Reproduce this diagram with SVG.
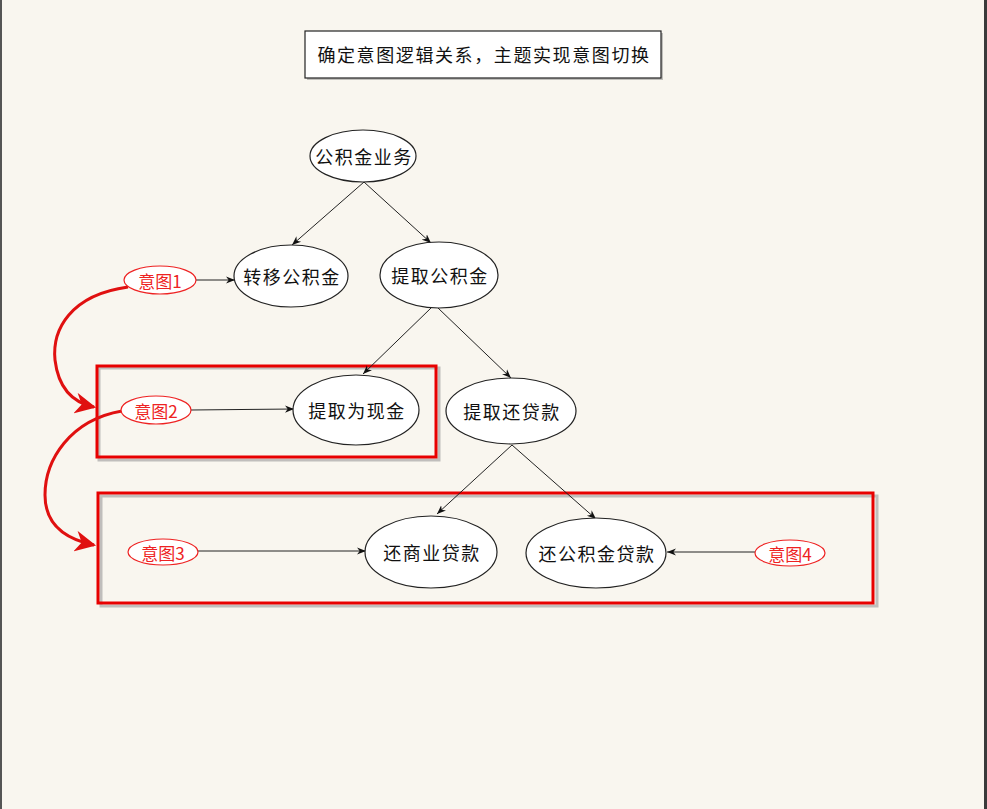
<svg xmlns="http://www.w3.org/2000/svg" width="987" height="809" viewBox="0 0 987 809">
<defs>
<style>
.bg{fill:#f9f6ef}
.node ellipse{fill:#ffffff;stroke:#222;stroke-width:1.2}
.intent ellipse{fill:#ffffff;stroke:#ee2222;stroke-width:1.2}
text{font-family:"Noto Sans CJK SC","Noto Sans",sans-serif;text-anchor:middle;dominant-baseline:central}
.node text{font-size:18px;fill:#111;letter-spacing:1.5px}
.intent text{font-size:17px;fill:#ee2222}
.edge{stroke:#222;stroke-width:1;fill:none;marker-end:url(#ah)}
.redarc{stroke:#e01010;stroke-width:3;fill:none;marker-end:url(#rah)}
.frame{fill:none;stroke:#e80000;stroke-width:3}
.shadow{fill:none;stroke:#999;stroke-width:3;opacity:0.6}
</style>
<marker id="ah" viewBox="0 0 10 10" refX="10" refY="5" markerWidth="9" markerHeight="9" markerUnits="userSpaceOnUse" orient="auto">
<path d="M0,1 L10,5 L0,9 L3,5 Z" fill="#111"/>
</marker>
<marker id="rah" viewBox="0 0 10 10" refX="9" refY="5" markerWidth="7" markerHeight="7" orient="auto">
<path d="M0,0 L10,5 L0,10 L3,5 Z" fill="#e01010"/>
</marker>
</defs>
<rect class="bg" x="0" y="0" width="987" height="809"/>
<rect x="0" y="0" width="2" height="809" fill="#555"/>
<rect x="984" y="0" width="3" height="809" fill="#3a3a3a"/>

<g id="title">
<rect x="307" y="33" width="356" height="47" fill="#888" opacity="0.5"/>
<rect x="305" y="31" width="356" height="47" fill="#fff" stroke="#222" stroke-width="1.2"/>
<text x="484" y="54" font-size="18" fill="#111" letter-spacing="1.6">确定意图逻辑关系，主题实现意图切换</text>
</g>

<g id="frame1">
<rect class="shadow" x="99" y="368" width="340" height="92"/>
<rect class="frame" x="97" y="366" width="339" height="91"/>
</g>
<g id="frame2">
<rect class="shadow" x="101" y="496" width="776" height="110"/>
<rect class="frame" x="98" y="493" width="775" height="110"/>
</g>

<g id="connectors">
<line class="edge" x1="364" y1="182" x2="292" y2="245"/>
<line class="edge" x1="364" y1="182" x2="431" y2="243"/>
<line class="edge" x1="431" y1="308" x2="363" y2="374"/>
<line class="edge" x1="438" y1="308" x2="511" y2="378"/>
<line class="edge" x1="512" y1="445" x2="437" y2="514"/>
<line class="edge" x1="512" y1="445" x2="596" y2="519"/>
<line class="edge" x1="196" y1="280" x2="235" y2="280"/>
<line class="edge" x1="191" y1="410" x2="294" y2="409"/>
<line class="edge" x1="198" y1="551" x2="366" y2="551"/>
<line class="edge" x1="755" y1="552" x2="667" y2="552"/>
<path class="redarc" d="M128,287 C70,295 52,330 55,360 C58,385 70,402 94,407"/>
<path class="redarc" d="M122,411 C70,420 45,460 45,495 C45,520 60,538 94,545"/>
</g>

<g id="n-root" class="node"><ellipse cx="363" cy="156" rx="53" ry="26"/><text x="364" y="156">公积金业务</text></g>
<g id="n-transfer" class="node"><ellipse cx="291" cy="276" rx="57" ry="31"/><text x="292" y="276">转移公积金</text></g>
<g id="n-withdraw" class="node"><ellipse cx="439" cy="275" rx="59" ry="33"/><text x="440" y="275">提取公积金</text></g>
<g id="n-cash" class="node"><ellipse cx="356" cy="410" rx="63" ry="35"/><text x="357" y="410">提取为现金</text></g>
<g id="n-repay" class="node"><ellipse cx="511" cy="411" rx="65" ry="33"/><text x="512" y="411">提取还贷款</text></g>
<g id="n-commercial" class="node"><ellipse cx="431" cy="552" rx="66" ry="36"/><text x="432" y="552">还商业贷款</text></g>
<g id="n-fund" class="node"><ellipse cx="596" cy="553" rx="70" ry="35"/><text x="597" y="553">还公积金贷款</text></g>

<g id="i1" class="intent"><ellipse cx="160" cy="280" rx="36" ry="14"/><text x="160" y="280">意图1</text></g>
<g id="i2" class="intent"><ellipse cx="156" cy="410" rx="35" ry="14"/><text x="156" y="410">意图2</text></g>
<g id="i3" class="intent"><ellipse cx="163" cy="552" rx="35" ry="13"/><text x="163" y="552">意图3</text></g>
<g id="i4" class="intent"><ellipse cx="790" cy="553" rx="35" ry="13"/><text x="790" y="553">意图4</text></g>
</svg>
